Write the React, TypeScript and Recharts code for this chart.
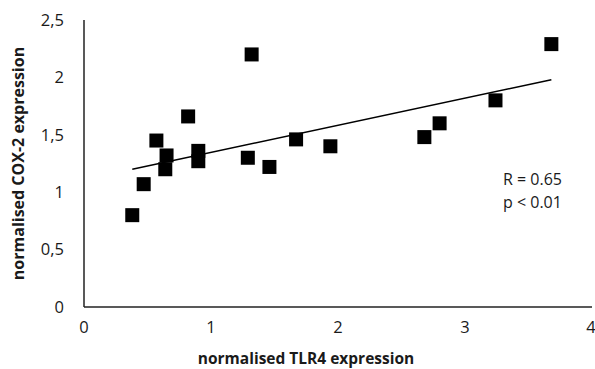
import { ScatterChart, Scatter, XAxis, YAxis, Label } from "recharts";

// normalised TLR4 (x) vs normalised COX-2 (y)
const tlr4 = [0.38, 0.47, 0.57, 0.64, 0.65, 0.82, 0.9, 0.9, 1.29, 1.32, 1.46, 1.67, 1.94, 2.68, 2.8, 3.24, 3.68];
const cox2 = [0.8, 1.07, 1.45, 1.2, 1.32, 1.66, 1.36, 1.27, 1.3, 2.2, 1.22, 1.46, 1.4, 1.48, 1.6, 1.8, 2.29];

// linear trendline end points
const trendX = [0.38, 3.68];
const trendY = [1.2, 1.98];

const xTicks = [0, 1, 2, 3, 4];
const yTicks = [0, 0.5, 1, 1.5, 2, 2.5];

const points = tlr4.map((x, i) => ({ x, y: cox2[i] }));
const trend = trendX.map((x, i) => ({ x, y: trendY[i] }));

const font = "'Open Sans', sans-serif";
const ink = "#1a1a1a";

const Square = (props: any) => {
  const { cx, cy } = props;
  return <rect x={cx - 7} y={cy - 7} width={14} height={14} fill="#000" />;
};

const NoDot = () => <g />;

export default function App() {
  return (
    <div style={{ position: "relative", width: 595, height: 369, fontFamily: font }}>
      <style>{`body{margin:0}`}</style>
      <ScatterChart
        width={595}
        height={369}
        margin={{ top: 20, right: 3, left: 0, bottom: 0 }}
      >
        <XAxis
          type="number"
          dataKey="x"
          domain={[0, 4]}
          ticks={xTicks}
          allowDataOverflow
          height={62}
          tickLine={false}
          tickMargin={8}
          axisLine={{ stroke: "#222", strokeWidth: 1.5 }}
          tick={{ fill: ink, fontSize: 16.5, fontFamily: font }}
        >
          <Label
            value="normalised TLR4 expression"
            position="insideBottom"
            offset={5}
            dx={-32}
            style={{ fill: ink, fontSize: 15.5, fontWeight: 700, fontFamily: font }}
          />
        </XAxis>
        <YAxis
          type="number"
          dataKey="y"
          domain={[0, 2.5]}
          ticks={yTicks}
          width={84}
          tickLine={false}
          tickMargin={14}
          tickFormatter={(v: number) => String(v).replace(".", ",")}
          axisLine={{ stroke: "#222", strokeWidth: 1.5 }}
          tick={{ fill: ink, fontSize: 16.5, fontFamily: font }}
        >
          <Label
            value="normalised COX-2 expression"
            angle={-90}
            position="insideLeft"
            offset={18}
            style={{ fill: ink, fontSize: 16, fontWeight: 700, fontFamily: font, textAnchor: "middle" }}
          />
        </YAxis>
        <Scatter data={points} shape={Square} isAnimationActive={false} />
        <Scatter
          data={trend}
          line={{ stroke: "#000", strokeWidth: 1.5 }}
          shape={NoDot}
          isAnimationActive={false}
        />
      </ScatterChart>
      <div style={{ position: "absolute", left: 503, top: 168, fontSize: 16, color: ink, lineHeight: "23px" }}>
        R = 0.65
        <br />
        p &lt; 0.01
      </div>
    </div>
  );
}
